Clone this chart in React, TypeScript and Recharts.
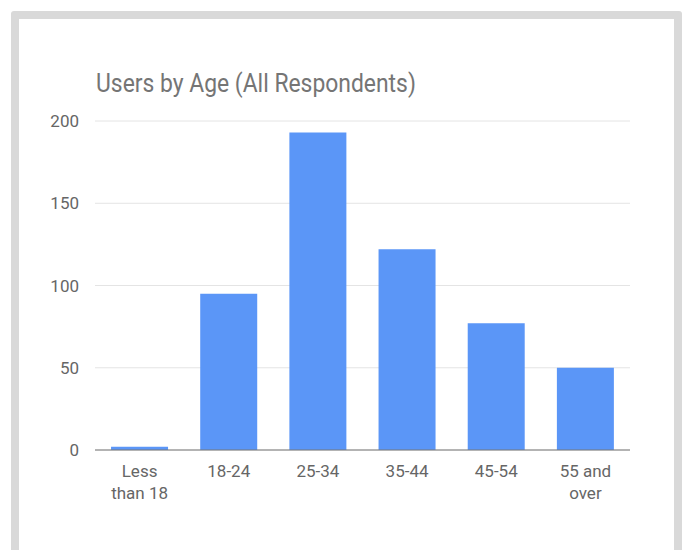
import React from 'react';
import { BarChart, Bar, XAxis, YAxis, CartesianGrid, ReferenceLine } from 'recharts';

// Age groups and respondent counts
const ageGroups = ['Less than 18', '18-24', '25-34', '35-44', '45-54', '55 and over'];
const users = [2, 95, 193, 122, 77, 50];
const tickLabels = [['Less', 'than 18'], ['18-24'], ['25-34'], ['35-44'], ['45-54'], ['55 and', 'over']];
const yTicks = [0, 50, 100, 150, 200];

const data = ageGroups.map((name, i) => ({ name, users: users[i] }));

const FONT = 'Roboto, "Noto Sans", Arial, sans-serif';

const AgeTick = (props: any) => {
  const { x, y, index } = props;
  const lines = tickLabels[index] || [props.payload.value];
  return (
    <text x={x} y={y} textAnchor="middle" fill="#666" fontSize={17} fontFamily={FONT}>
      {lines.map((l, i) => (
        <tspan key={i} x={x} dy={i === 0 ? 19 : 22}>{l}</tspan>
      ))}
    </text>
  );
};

const App = () => {
  return (
    <div style={{ position: 'absolute', left: 0, top: 0, width: 685, height: 550, background: '#fff', overflow: 'hidden' }}>
      <div
        style={{
          position: 'absolute',
          left: 11,
          top: 11,
          width: 655,
          height: 600,
          border: '8px solid #d9d9d9',
          borderRadius: 3,
          background: '#fff',
        }}
      />
      <div
        style={{
          position: 'absolute',
          left: 96,
          top: 68,
          fontFamily: FONT,
          fontSize: 26,
          lineHeight: 'normal',
          color: '#757575',
          whiteSpace: 'nowrap',
          transform: 'scaleX(0.88)',
          transformOrigin: 'left top',
        }}
      >
        Users by Age (All Respondents)
      </div>
      <div style={{ position: 'absolute', left: 0, top: 0 }}>
        <BarChart
          width={685}
          height={550}
          data={data}
          margin={{ top: 121, right: 55, left: 0, bottom: 50 }}
          barCategoryGap="18%"
        >
          <CartesianGrid horizontal vertical={false} stroke="#e4e4e4" />
          <XAxis
            dataKey="name"
            height={50}
            axisLine={false}
            tickLine={false}
            interval={0}
            tick={<AgeTick />}
          />
          <YAxis
            width={95}
            domain={[0, 200]}
            ticks={yTicks}
            axisLine={false}
            tickLine={false}
            tickSize={0}
            tickMargin={16}
            tick={{ fill: '#666', fontSize: 17, fontFamily: FONT }}
          />
          <Bar dataKey="users" fill="#5b96f7" isAnimationActive={false} />
          <ReferenceLine y={0} stroke="#777" strokeWidth={1} />
        </BarChart>
      </div>
    </div>
  );
};

export default App;
